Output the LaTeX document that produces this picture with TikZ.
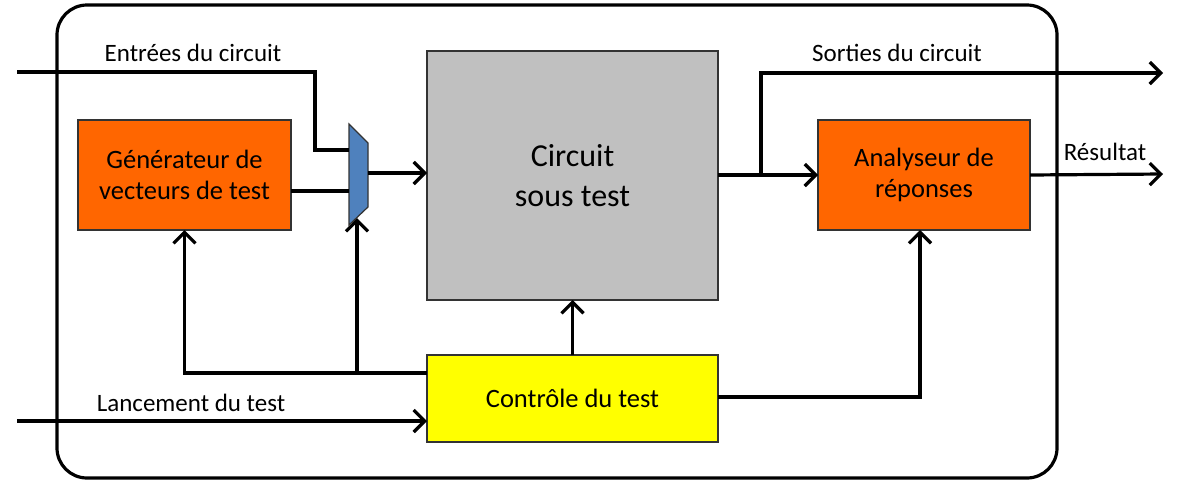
\documentclass[tikz,border=0pt]{standalone}
\usepackage{fontspec}
\setmainfont{Carlito}
\usetikzlibrary{arrows.meta}
\definecolor{orng}{HTML}{FF6600}
\definecolor{gry}{HTML}{C0C0C0}
\definecolor{yel}{HTML}{FFFF00}
\definecolor{blu}{HTML}{4F81BD}
\begin{document}
\begin{tikzpicture}[x=1pt,y=-1pt,
  wire/.style={line width=3.2pt},
  arr/.style={wire,-{Straight Barb[length=11pt,width=22pt,line width=3.2pt]}},
  blk/.style={draw=black!80,line width=1.2pt,inner sep=0pt,outer sep=0pt,align=center,font=\fontsize{26.5}{31}\selectfont},
  lbl/.style={font=\fontsize{25}{30}\selectfont,inner sep=0pt}]
\useasboundingbox (0,0) rectangle (1178,485);
\draw[line width=3.2pt,rounded corners=30pt] (57,5) rectangle (1057,478);
\node[blk,fill=orng,minimum width=213pt,minimum height=110pt] (gen) at (184.5,175) {Générateur de\\vecteurs de test};
\node[blk,fill=gry,minimum width=291pt,minimum height=249pt,font=\fontsize{32}{40}\selectfont] (cut) at (572.5,175.5) {Circuit\\sous test};
\node[blk,fill=orng,minimum width=212pt,minimum height=110pt] (ana) at (924,175) {Analyseur de\\réponses};
\node[blk,fill=yel,minimum width=291pt,minimum height=87pt] (ctl) at (572.5,398.5) {Contrôle du test};
\draw[fill=blu,draw=black!80,line width=1.2pt] (349,124) -- (368,143) -- (368,207) -- (349,225) -- cycle;
\coordinate (muxl1) at (349,150);
\coordinate (muxl2) at (349,191);
\coordinate (muxo) at (368,173);
\coordinate (muxb) at (357,218);
\coordinate (in1) at (17,72);
\coordinate (in2) at (17,421);
\coordinate (out1) at (1163,73);
\coordinate (out2) at (1163,174);
% inputs
\draw[wire] (in1) -- (315,72) -- (315,150) -- (muxl1);
\draw[wire] (gen.east |- muxl2) -- (muxl2);
\draw[arr] (muxo) -- (cut.west |- muxo);
\draw[arr] (in2) -- (ctl.west |- in2);
% outputs
\draw[arr] (cut.east |- ana) -- (ana.west);
\draw[arr] (761,174) -- (761,73) -- (out1);
\draw[arr] (ana.east) -- (out2);
% control
\draw[arr] (ctl.north) -- (cut.south);
\draw[arr] (ctl.west |- 0,373) -- (184.5,373) -- (gen.south);
\draw[arr] (357,373) -- (muxb);
\draw[arr] (ctl.east |- 0,397) -- (920,397) -- (ana.south -| 920,0);
% labels
\node[lbl] (l1) at (193,53) {Entrées du circuit};
\node[lbl] (l2) at (897,53) {Sorties du circuit};
\node[lbl] (l3) at (1105,152) {Résultat};
\node[lbl] (l4) at (191,403) {Lancement du test};
\end{tikzpicture}
\end{document}
